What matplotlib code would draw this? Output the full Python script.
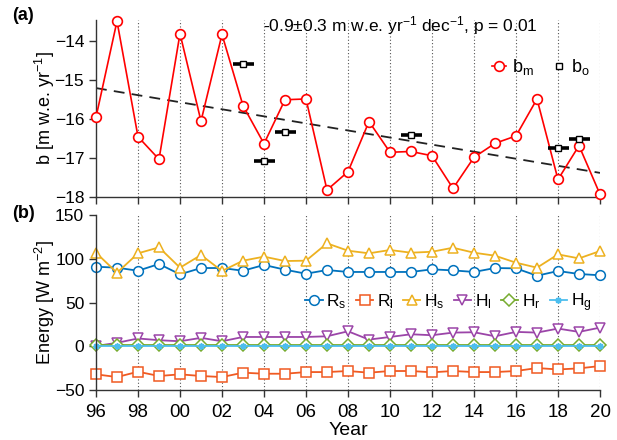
import numpy as np
import matplotlib
matplotlib.use("Agg")
import matplotlib.pyplot as plt

plt.rcParams["font.family"] = ["Liberation Sans", "DejaVu Sans"]
plt.rcParams["mathtext.fontset"] = "custom"
plt.rcParams["mathtext.rm"] = "Liberation Sans"
plt.rcParams["mathtext.it"] = "Liberation Sans"

years = np.arange(1996, 2021)

# (a) modelled and observed mass balance
b_m = [-15.95, -13.48, -16.45, -17.03, -13.80, -16.05, -13.82, -15.65, -16.63, -15.50,
       -15.48, -17.82, -17.35, -16.06, -16.85, -16.83, -16.94, -17.78, -16.98, -16.62,
       -16.43, -15.48, -17.55, -16.68, -17.93]
obs_years = [2003, 2004, 2005, 2011, 2018, 2019]
b_o = [-14.58, -17.07, -16.32, -16.40, -16.75, -16.52]
trend_years = [1996, 2020]
trend_vals = [-15.20, -17.38]

# (b) energy fluxes
R_s = [90.9, 89.8, 86.3, 94.0, 82.2, 89.4, 89.4, 86.3, 92.9, 87.5, 82.9, 87.1, 84.9,
       84.9, 84.9, 84.9, 87.9, 86.7, 84.9, 89.4, 89.0, 80.6, 86.0, 82.6, 81.1]
R_l = [-32.1, -35.2, -29.1, -34.0, -32.1, -34.0, -35.2, -30.2, -31.4, -31.4, -29.5, -29.5,
       -28.3, -30.2, -28.3, -28.3, -29.8, -28.3, -29.5, -29.5, -28.3, -24.9, -26.5, -25.3, -22.6]
H_s = [106.9, 84.0, 106.2, 113.0, 89.8, 104.3, 86.0, 97.8, 102.4, 97.4, 97.8, 117.6, 109.2,
       106.2, 110.0, 106.9, 108.0, 112.6, 106.9, 103.5, 95.5, 89.8, 105.0, 100.4, 108.8]
H_l = [0.3, 3.9, 8.9, 6.9, 5.7, 9.6, 5.7, 10.6, 10.6, 10.6, 10.6, 11.4, 17.1, 7.6, 10.6,
       13.7, 12.6, 15.6, 16.0, 11.4, 16.4, 15.6, 20.2, 16.4, 21.3]
H_r = [1.0] * 25
H_g = [0.3] * 25

xticks = np.arange(1996, 2021, 2)
xticklabels = ["%02d" % (y % 100) for y in xticks]

spine_col = "#333333"
fig = plt.figure(figsize=(6.17, 4.4), dpi=100)
ax1 = fig.add_axes([96 / 617, 1 - 197 / 440, 504 / 617, 177 / 440])
ax2 = fig.add_axes([96 / 617, 1 - 390 / 440, 504 / 617, 175 / 440])

for ax in (ax1, ax2):
    ax.set_xlim(1996, 2020)
    ax.set_xticks(xticks)
    for s in ("top", "right"):
        ax.spines[s].set_visible(False)
    for s in ("left", "bottom"):
        ax.spines[s].set_color(spine_col)
        ax.spines[s].set_linewidth(1.0)
    ax.tick_params(direction="out", length=5, width=1.0, color=spine_col, labelsize=12.5)
    for x in xticks[1:]:
        ax.axvline(x, color="#555555", ls=(0, (1, 2)), lw=0.8, zorder=0)

# panel (a)
ax1.set_ylim(-18, -13.45)
ax1.set_yticks([-18, -17, -16, -15, -14])
ax1.set_xticklabels([])
ax1.plot(trend_years, trend_vals, color="#222222", ls=(0, (6, 4)), lw=1.3, zorder=2)
ax1.plot(years, b_m, color="red", lw=1.2, marker="o", ms=7, mfc="white", mec="red",
         mew=1.2, clip_on=False, zorder=3, label=r"b$_\mathregular{m}$")
ax1.errorbar(obs_years, b_o, xerr=0.5, fmt="none", ecolor="black", elinewidth=2.6,
             capsize=0, zorder=4)
ax1.plot(obs_years, b_o, ls="none", marker="s", ms=5, mfc="white", mec="black",
         mew=1.0, zorder=5, label=r"b$_\mathregular{o}$")
ax1.text(2003.95, -13.6, r"-0.9$\pm$0.3 m w.e. yr$^{-1}$ dec$^{-1}$, p = 0.01",
         fontsize=12.5, va="center", ha="left")
ax1.legend(loc="center left", bbox_to_anchor=(0.785, 0.735), frameon=False, ncol=2,
           fontsize=13, handlelength=0.8, handletextpad=0.3, columnspacing=1.0,
           borderpad=0, borderaxespad=0)

# panel (b)
ax2.set_ylim(-50, 150)
ax2.set_yticks([-50, 0, 50, 100, 150])
ax2.set_xticklabels(xticklabels)
ax2.tick_params(axis="x", labelsize=13.5, pad=5)
series = [
    (R_s, "#0072BD", "o", r"R$_\mathregular{s}$", 7),
    (R_l, "#F05A22", "s", r"R$_\mathregular{l}$", 6.5),
    (H_s, "#EDB120", "^", r"H$_\mathregular{s}$", 7.5),
    (H_l, "#9B45A8", "v", r"H$_\mathregular{l}$", 7.5),
    (H_r, "#77AC30", "D", r"H$_\mathregular{r}$", 6),
    (H_g, "#4DBEEE", (8, 2, 0), r"H$_\mathregular{g}$", 4.5),
]
for vals, col, mk, lab, ms in series:
    ax2.plot(years, vals, color=col, lw=1.3, marker=mk, ms=ms, mfc="white", mec=col,
             mew=1.1, clip_on=False, label=lab)
ax2.legend(loc="center left", bbox_to_anchor=(0.415, 0.5), frameon=False, ncol=6,
           fontsize=12.5, handlelength=1.0, handletextpad=0.2, columnspacing=0.55,
           borderpad=0, borderaxespad=0)

fig.text(45 / 617, 1 - 108.5 / 440, r"b [m w.e. yr$^{-1}$]", rotation=90,
         ha="center", va="center", fontsize=13)
fig.text(45 / 617, 1 - 302.5 / 440, r"Energy [W m$^{-2}$]", rotation=90,
         ha="center", va="center", fontsize=13)
fig.text(348 / 617, 1 - 430 / 440, "Year", ha="center", va="center", fontsize=14)
fig.text(12 / 617, 1 - 15 / 440, "(a)", fontweight="bold", ha="left", va="center", fontsize=13)
fig.text(12 / 617, 1 - 213 / 440, "(b)", fontweight="bold", ha="left", va="center", fontsize=13)

fig.savefig("out.png", dpi=100)
